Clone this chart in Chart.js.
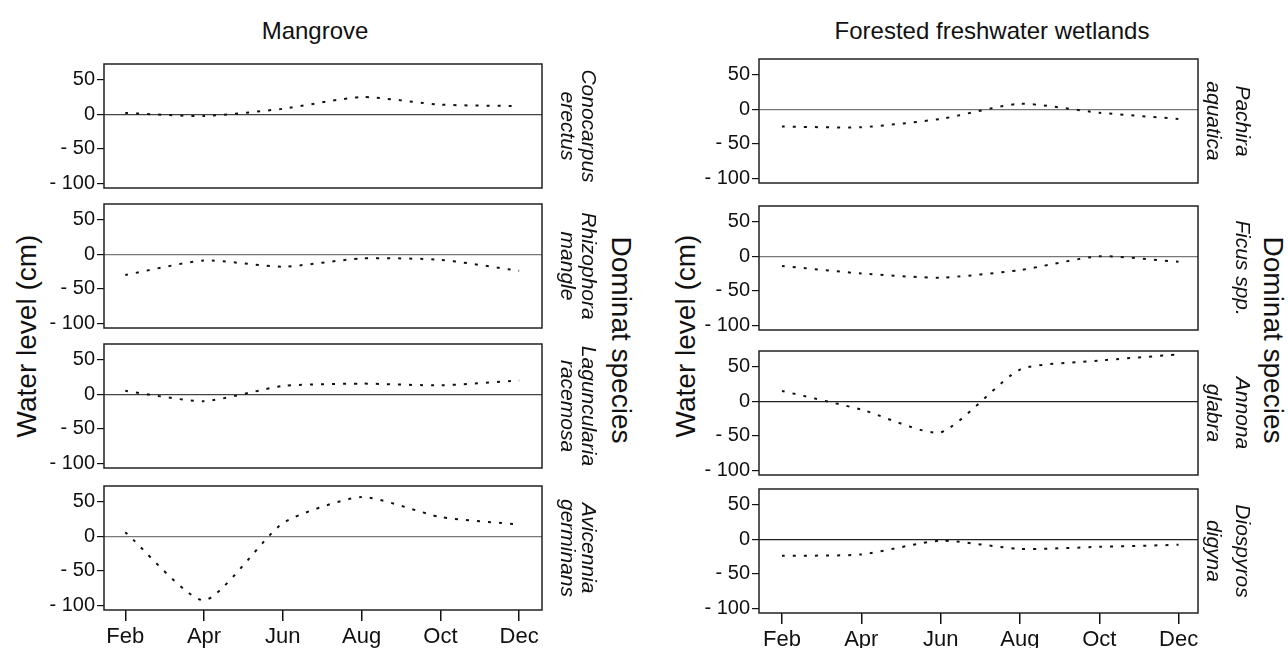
<!DOCTYPE html>
<html lang="en">
<head>
    <meta charset="UTF-8">
    <title>Water level by dominant species</title>
    <script src="https://cdn.jsdelivr.net/npm/chart.js"></script>
    <style>
        body { margin: 0; background: #fff; }
        #wrap { position: relative; width: 1288px; height: 648px; font-family: 'Liberation Sans', Arial, sans-serif; color: #111; }
        #wrap canvas { position: absolute; }
        .lbl { position: absolute; white-space: nowrap; line-height: 1; transform: translate(-50%, -50%); }
    </style>
</head>
<body>
<div id="wrap">
    <div class="lbl" style="left:315px; top:31px; font-size:24px;">Mangrove</div>
    <div class="lbl" style="left:992px; top:31px; font-size:24px;">Forested freshwater wetlands</div>
    <div class="lbl" style="left:27px; top:336px; font-size:28px; transform: translate(-50%, -50%) rotate(-90deg);">Water level (cm)</div>
    <div class="lbl" style="left:686px; top:336px; font-size:28px; transform: translate(-50%, -50%) rotate(-90deg);">Water level (cm)</div>
    <div class="lbl" style="left:621px; top:340px; font-size:28px; transform: translate(-50%, -50%) rotate(90deg);">Dominat species</div>
    <div class="lbl" style="left:1273px; top:340px; font-size:28px; transform: translate(-50%, -50%) rotate(90deg);">Dominat species</div>
</div>

<script>
// months as numbers (Feb = 2 ... Dec = 12), sampled every two months
const months = [2, 4, 6, 8, 10, 12];
const monthLabels = ['Feb', 'Apr', 'Jun', 'Aug', 'Oct', 'Dec'];
const yTicks = [-100, -50, 0, 50];

// water level (cm), mangrove
const conocarpus = [2, -2.5, 8, 25, 14, 12];
const rhizophora = [-30, -9, -18, -6, -8, -24];
const laguncularia = [5, -10, 12, 15.5, 13, 20];
const avicennia = [6, -93, 19, 57, 28, 17];

// water level (cm), forested freshwater wetlands
const pachira = [-25, -26, -14, 8, -5, -14];
const ficus = [-14, -25, -31, -20, 0, -8];
const annona = [15, -12, -45, 46, 59, 68];
const diospyros = [-24, -22, -2, -14, -11, -8];

const FONT = "'Liberation Sans', Arial, sans-serif";

// layout of the two columns
const cols = [
    { x: 0, yw: 104, width: 602, xMin: 1.46, xMax: 12.58, spLine: 21, spPad: 3.5 },
    { x: 640, yw: 119, width: 618, xMin: 1.42, xMax: 12.49, spLine: 29, spPad: 1.5 }
];

const panels = [
    { col: 0, top: 64, name: ['Conocarpus', 'erectus'], data: conocarpus, zero: '#444' },
    { col: 0, top: 204, name: ['Rhizophora', 'mangle'], data: rhizophora, zero: '#777' },
    { col: 0, top: 344, name: ['Laguncularia', 'racemosa'], data: laguncularia, zero: '#444' },
    { col: 0, top: 486, name: ['Avicennia', 'germinans'], data: avicennia, zero: '#777', bottom: true },
    { col: 1, top: 59, name: ['Pachira', 'aquatica'], data: pachira, zero: '#777' },
    { col: 1, top: 206, name: ['Ficus spp.'], data: ficus, zero: '#777' },
    { col: 1, top: 351, name: ['Annona', 'glabra'], data: annona, zero: '#222' },
    { col: 1, top: 489, name: ['Diospyros', 'digyna'], data: diospyros, zero: '#222', bottom: true }
];

const BOX_H = 124;
const PAD_T = 16, PAD_B = 16, X_H = 38;

// frame around each plot area
const boxPlugin = {
    id: 'box',
    afterDatasetsDraw(chart) {
        const a = chart.chartArea;
        const ctx = chart.ctx;
        ctx.save();
        ctx.strokeStyle = '#222';
        ctx.lineWidth = 1.5;
        ctx.strokeRect(a.left, a.top, a.right - a.left, a.bottom - a.top);
        ctx.restore();
    }
};

const wrap = document.getElementById('wrap');

panels.forEach(p => {
    const c = cols[p.col];
    const xh = p.bottom ? X_H : 0;
    const pb = p.bottom ? 4 : PAD_B;
    const h = PAD_T + BOX_H + xh + pb;
    const cv = document.createElement('canvas');
    cv.width = c.width;
    cv.height = h;
    cv.style.left = c.x + 'px';
    cv.style.top = (p.top - PAD_T) + 'px';
    wrap.appendChild(cv);

    new Chart(cv.getContext('2d'), {
        type: 'line',
        data: {
            datasets: [{
                data: months.map((m, i) => ({ x: m, y: p.data[i] })),
                borderColor: '#111',
                borderWidth: 2,
                borderDash: [3, 8],
                pointRadius: 0,
                tension: 0.2,
                fill: false
            }]
        },
        options: {
            responsive: false,
            animation: false,
            layout: { padding: { top: PAD_T, bottom: pb, left: 0, right: 0 } },
            plugins: { legend: { display: false }, tooltip: { enabled: false } },
            scales: {
                x: {
                    type: 'linear',
                    min: c.xMin,
                    max: c.xMax,
                    display: !!p.bottom,
                    afterBuildTicks: s => { s.ticks = months.map(v => ({ value: v })); },
                    afterFit: s => { s.height = xh; },
                    border: { display: false },
                    grid: { drawOnChartArea: false, tickLength: 11, tickColor: '#111', lineWidth: 1.5 },
                    ticks: {
                        autoSkip: false,
                        maxRotation: 0,
                        padding: 3,
                        color: '#111',
                        font: { family: FONT, size: 22 },
                        callback: v => monthLabels[months.indexOf(v)]
                    }
                },
                y: {
                    type: 'linear',
                    position: 'left',
                    min: -107,
                    max: 73,
                    afterBuildTicks: s => { s.ticks = yTicks.map(v => ({ value: v })); },
                    afterFit: s => { s.width = c.yw; },
                    border: { display: false },
                    grid: {
                        color: g => (g.tick && g.tick.value === 0) ? p.zero : 'rgba(0,0,0,0)',
                        tickColor: '#111',
                        tickLength: 7,
                        lineWidth: 1.2
                    },
                    ticks: {
                        padding: 2,
                        color: '#111',
                        font: { family: FONT, size: 20 },
                        callback: v => v < 0 ? '- ' + Math.abs(v) : String(v)
                    }
                },
                sp: {
                    type: 'linear',
                    position: 'right',
                    afterFit: s => { s.width = 60; },
                    grid: { display: false, drawTicks: false },
                    border: { display: false },
                    ticks: { display: false },
                    title: {
                        display: true,
                        text: p.name,
                        color: '#111',
                        padding: { top: c.spPad, bottom: 0 },
                        font: { family: FONT, size: 21, style: 'italic', lineHeight: c.spLine / 21 }
                    }
                }
            }
        },
        plugins: [boxPlugin]
    });
});
</script>
</body>
</html>
